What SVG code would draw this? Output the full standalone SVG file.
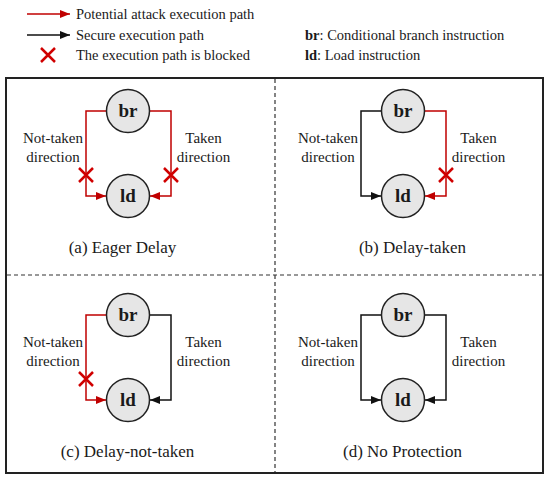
<svg xmlns="http://www.w3.org/2000/svg" width="550" height="481" viewBox="0 0 550 481">
<style>
text{font-family:"Liberation Serif","Times New Roman",serif;fill:#1a1a1a}
.lg{font-size:14.5px}
.lb{font-size:15px;text-anchor:middle}
.cap{font-size:17px;text-anchor:middle}
.nd{font-size:19px;font-weight:bold;text-anchor:middle}
.node circle{fill:#e6e6e6;stroke:#222;stroke-width:1.5}
.red{fill:none;stroke:#c00000;stroke-width:1.5}
.blk{fill:none;stroke:#111;stroke-width:1.5}
.x{stroke:#d00000;stroke-width:2.5;fill:none}
.div{stroke:#333;stroke-width:1.2;stroke-dasharray:4 3;fill:none}
</style>
<defs>
<marker id="ar" markerUnits="userSpaceOnUse" markerWidth="11" markerHeight="9" refX="10" refY="4" orient="auto"><path d="M0,0 L10,4 L0,8 z" fill="#c00000"/></marker>
<marker id="ab" markerUnits="userSpaceOnUse" markerWidth="11" markerHeight="9" refX="10" refY="4" orient="auto"><path d="M0,0 L10,4 L0,8 z" fill="#111"/></marker>
<symbol id="xm" overflow="visible"><path class="x" d="M-7,-7 L7,7 M7,-7 L-7,7"/></symbol>
</defs>

<g id="legend">
<line class="red" x1="27" y1="14" x2="70" y2="14" marker-end="url(#ar)"/>
<text class="lg" x="76" y="19">Potential attack execution path</text>
<line class="blk" x1="27" y1="35" x2="70" y2="35" marker-end="url(#ab)"/>
<text class="lg" x="76" y="40">Secure execution path</text>
<use href="#xm" x="48" y="55"/>
<text class="lg" x="76" y="60">The execution path is blocked</text>
<text class="lg" x="305" y="40"><tspan font-weight="bold">br</tspan>: Conditional branch instruction</text>
<text class="lg" x="305" y="60"><tspan font-weight="bold">ld</tspan>: Load instruction</text>
</g>

<g id="frame">
<rect x="6" y="78" width="537" height="395" fill="none" stroke="#222" stroke-width="2"/>
<line class="div" x1="275" y1="79" x2="275" y2="472"/>
<line class="div" x1="7" y1="275" x2="542" y2="275"/>
</g>

<g id="connectors">
<g transform="translate(0,0)">
<path class="red" d="M106.5,111 H86 V196 H106" marker-end="url(#ar)"/>
<path class="red" d="M149.5,111 H171 V196 H150" marker-end="url(#ar)"/>
<use href="#xm" x="86" y="175"/><use href="#xm" x="171" y="175"/>
</g>
<g transform="translate(275,0)">
<path class="blk" d="M106.5,111 H86 V196 H106" marker-end="url(#ab)"/>
<path class="red" d="M149.5,111 H171 V196 H150" marker-end="url(#ar)"/>
<use href="#xm" x="171" y="175"/>
</g>
<g transform="translate(0,204)">
<path class="red" d="M106.5,111 H86 V196 H106" marker-end="url(#ar)"/>
<path class="blk" d="M149.5,111 H171 V196 H150" marker-end="url(#ab)"/>
<use href="#xm" x="86" y="175"/>
</g>
<g transform="translate(275,204)">
<path class="blk" d="M106.5,111 H86 V196 H106" marker-end="url(#ab)"/>
<path class="blk" d="M149.5,111 H171 V196 H150" marker-end="url(#ab)"/>
</g>
</g>

<g id="panel-a">
<g id="a-br" class="node"><circle cx="128" cy="111" r="21.5"/><text class="nd" x="128" y="117">br</text></g>
<g id="a-ld" class="node"><circle cx="128" cy="196" r="21.5"/><text class="nd" x="128" y="202">ld</text></g>
<text class="lb" x="53" y="143">Not-taken</text><text class="lb" x="53" y="162">direction</text>
<text class="lb" x="203.5" y="143">Taken</text><text class="lb" x="203.5" y="162">direction</text>
<text class="cap" x="122.5" y="253">(a) Eager Delay</text>
</g>

<g id="panel-b" transform="translate(275,0)">
<g id="b-br" class="node"><circle cx="128" cy="111" r="21.5"/><text class="nd" x="128" y="117">br</text></g>
<g id="b-ld" class="node"><circle cx="128" cy="196" r="21.5"/><text class="nd" x="128" y="202">ld</text></g>
<text class="lb" x="53" y="143">Not-taken</text><text class="lb" x="53" y="162">direction</text>
<text class="lb" x="203.5" y="143">Taken</text><text class="lb" x="203.5" y="162">direction</text>
<text class="cap" x="137.5" y="253">(b) Delay-taken</text>
</g>

<g id="panel-c" transform="translate(0,204)">
<g id="c-br" class="node"><circle cx="128" cy="111" r="21.5"/><text class="nd" x="128" y="117">br</text></g>
<g id="c-ld" class="node"><circle cx="128" cy="196" r="21.5"/><text class="nd" x="128" y="202">ld</text></g>
<text class="lb" x="53" y="143">Not-taken</text><text class="lb" x="53" y="162">direction</text>
<text class="lb" x="203.5" y="143">Taken</text><text class="lb" x="203.5" y="162">direction</text>
<text class="cap" x="127.5" y="253">(c) Delay-not-taken</text>
</g>

<g id="panel-d" transform="translate(275,204)">
<g id="d-br" class="node"><circle cx="128" cy="111" r="21.5"/><text class="nd" x="128" y="117">br</text></g>
<g id="d-ld" class="node"><circle cx="128" cy="196" r="21.5"/><text class="nd" x="128" y="202">ld</text></g>
<text class="lb" x="53" y="143">Not-taken</text><text class="lb" x="53" y="162">direction</text>
<text class="lb" x="203.5" y="143">Taken</text><text class="lb" x="203.5" y="162">direction</text>
<text class="cap" x="127.5" y="253">(d) No Protection</text>
</g>
</svg>
